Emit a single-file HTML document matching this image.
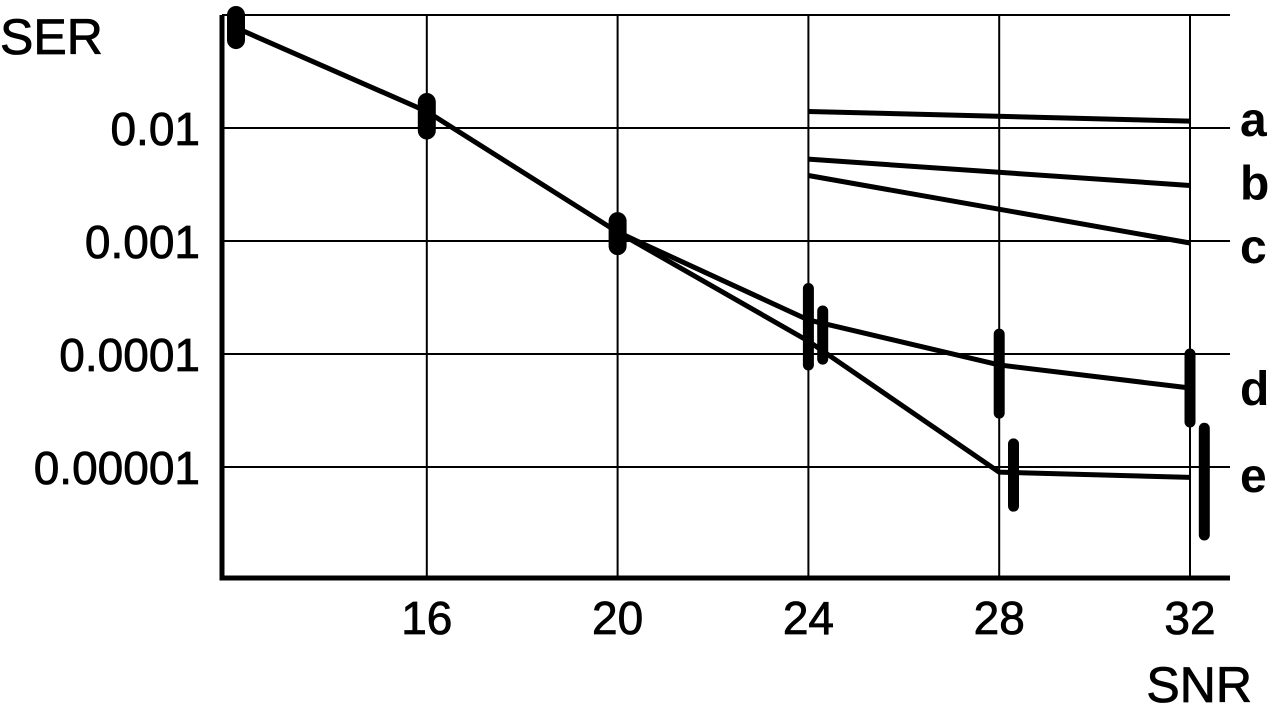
<!DOCTYPE html>
<html><head><meta charset="utf-8"><style>
html,body{margin:0;padding:0;background:#fff;}
svg{display:block;font-family:"Liberation Sans",sans-serif;}
</style></head><body>
<svg id="chart" width="1280" height="706" viewBox="0 0 1280 706">
<g id="grid"></g>
<g id="axes"></g>
<g id="series"></g>
<g id="labels"></g>
</svg>
<script>
const xTicks=[16,20,24,28,32];
const yTicks=[0.1,0.01,0.001,0.0001,0.00001];
const yTickLabels=["","0.01","0.001","0.0001","0.00001"];
const seriesNames=["a","b","c","d","e"];
const mainX=[12,16,20,24];
const mainY=[0.077,0.014,0.0012,0.00013];
const aX=[24,32]; const aY=[0.014,0.0115];
const bX=[24,32]; const bY=[0.0053,0.0031];
const cX=[24,32]; const cY=[0.0038,0.00096];
const dX=[20,24,28,32]; const dY=[0.0012,0.0002,0.00008,0.00005];
const eX=[24,28,32]; const eY=[0.00013,0.000009,0.0000081];
const errX=[12,16,20,24,24.3,28,28.3,32,32.3];
const errLo=[0.06,0.0095,0.0009,0.00008,0.00009,0.00003,0.0000045,0.000025,0.0000025];
const errHi=[0.1,0.017,0.0015,0.00038,0.00024,0.00015,0.000016,0.0001,0.000022];
const errW=[16,16,16,9,9,9,9,9,9];
const labelY=[0.012,0.0033,0.0009,0.00005,0.0000085];

function sx(v){return 236+(v-12)*47.7;}
function sy(v){return 15+(-1-Math.log10(v))*113;}
const NS="http://www.w3.org/2000/svg";
function mk(tag,attrs,parent){const e=document.createElementNS(NS,tag);for(const k in attrs)e.setAttribute(k,attrs[k]);document.getElementById(parent).appendChild(e);return e;}

yTicks.forEach((t,i)=>{
 const l=mk('line',{x1:222,x2:1230,y1:sy(t),y2:sy(t),stroke:'#000','stroke-width':2},'grid');
 
 
 if(yTickLabels[i]){const tx=mk('text',{x:200,y:sy(t)+17,'text-anchor':'end','font-size':46,stroke:'#000','stroke-width':0.8},'labels');tx.textContent=yTickLabels[i];
 
 }
});
xTicks.forEach(t=>{
 const l=mk('line',{x1:sx(t),x2:sx(t),y1:15,y2:578,stroke:'#000','stroke-width':2},'grid');
 
 
 const tx=mk('text',{x:sx(t),y:634,'text-anchor':'middle','font-size':46,stroke:'#000','stroke-width':0.8},'labels');tx.textContent=t;
 
 
});
const ax=mk('path',{d:'M222,15 V578 H1230',fill:'none',stroke:'#000','stroke-width':5},'axes');



function line(xs,ys,name){
 const p=xs.map((x,i)=>(i?'L':'M')+sx(x)+','+sy(ys[i])).join(' ');
 const e=mk('path',{d:p,fill:'none',stroke:'#000','stroke-width':5,'stroke-linejoin':'round'},'series');
 
 
}
line(mainX,mainY,'series-main');
line(aX,aY,'series-a');line(bX,bY,'series-b');line(cX,cY,'series-c');
line(dX,dY,'series-d');line(eX,eY,'series-e');
errX.forEach((x,i)=>{
 const e=mk('line',{x1:sx(x),x2:sx(x),y1:sy(errLo[i]),y2:sy(errHi[i]),stroke:'#000','stroke-width':errW[i]+2,'stroke-linecap':'round'},'series');
 
 
});
seriesNames.forEach((n,i)=>{
 const t=mk('text',{x:1240,y:sy(labelY[i])+17,'font-size':48,'font-weight':'bold'},'labels');t.textContent=n;
 
 
});
const s1=mk('text',{x:0,y:54,'font-size':50,stroke:'#000','stroke-width':0.8},'labels');s1.textContent='SER';


const s2=mk('text',{x:1252,y:702,'text-anchor':'end','font-size':50,stroke:'#000','stroke-width':0.8},'labels');s2.textContent='SNR';


</script>
</body></html>
